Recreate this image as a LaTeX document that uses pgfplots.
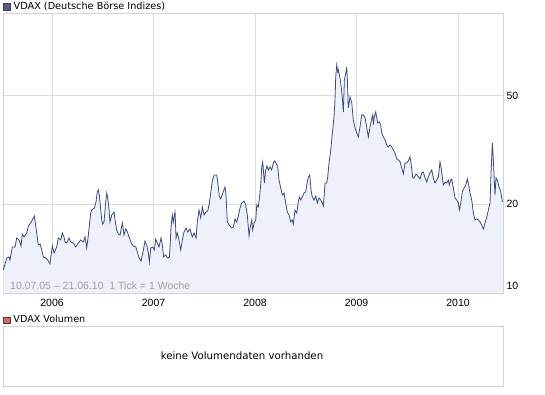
\documentclass[border=0pt]{standalone}
\usepackage{pgfplots}
\pgfplotsset{compat=1.18}
\usepackage{pgfplotstable}
\usepackage{fontspec}
\setmainfont{DejaVu Sans}
\newfontfamily\numfont{Liberation Sans}
\definecolor{vline}{HTML}{3B4C7C}
\definecolor{vfill}{HTML}{EEF1F9}
\definecolor{gridc}{HTML}{DCDCDC}
\definecolor{framec}{HTML}{D2D2D2}
\definecolor{sqblue}{HTML}{4B5E8E}
\definecolor{sqred}{HTML}{D9675F}
\definecolor{capgray}{HTML}{A0A0A0}

\pgfplotstableread{
year vdax
2005.520 11.44
2005.554 12.66
2005.576 12.77
2005.586 12.45
2005.609 13.90
2005.636 13.90
2005.652 15.00
2005.675 14.75
2005.695 14.02
2005.707 15.51
2005.724 15.13
2005.751 15.65
2005.767 16.60
2005.790 17.03
2005.816 17.77
2005.826 18.07
2005.849 15.65
2005.865 14.14
2005.882 14.26
2005.899 13.55
2005.914 12.77
2005.938 12.66
2005.958 12.45
2005.980 12.04
2006.003 14.02
2006.020 13.21
2006.046 13.90
2006.062 15.00
2006.086 14.75
2006.101 15.65
2006.118 15.13
2006.128 14.50
2006.145 14.38
2006.167 15.00
2006.184 14.50
2006.210 14.38
2006.233 13.90
2006.259 14.38
2006.283 14.75
2006.308 14.50
2006.325 15.13
2006.342 13.78
2006.358 15.38
2006.381 18.53
2006.391 19.01
2006.417 19.33
2006.433 20.34
2006.446 22.14
2006.456 22.52
2006.466 21.58
2006.480 19.01
2006.490 17.47
2006.499 16.88
2006.512 17.17
2006.529 20.34
2006.539 21.95
2006.549 21.04
2006.562 19.01
2006.571 17.17
2006.588 18.22
2006.611 18.69
2006.621 17.47
2006.637 16.05
2006.653 15.51
2006.670 15.38
2006.693 17.03
2006.709 15.38
2006.726 16.19
2006.742 15.78
2006.759 15.13
2006.785 14.26
2006.801 14.02
2006.825 13.90
2006.844 13.21
2006.857 12.66
2006.877 12.34
2006.900 13.55
2006.916 14.62
2006.933 14.14
2006.949 13.21
2006.959 12.24
2006.972 13.78
2006.992 13.90
2007.008 13.55
2007.022 14.87
2007.037 14.38
2007.054 13.90
2007.074 15.00
2007.087 14.14
2007.100 12.77
2007.120 12.99
2007.140 12.66
2007.156 12.77
2007.163 13.90
2007.172 16.46
2007.185 18.22
2007.195 17.17
2007.205 18.22
2007.212 18.69
2007.222 15.00
2007.235 15.65
2007.251 14.75
2007.268 13.55
2007.284 14.75
2007.300 15.78
2007.320 16.32
2007.337 15.78
2007.360 16.19
2007.382 15.13
2007.399 15.65
2007.419 15.00
2007.432 17.32
2007.448 19.01
2007.465 17.77
2007.481 19.50
2007.498 18.22
2007.517 18.69
2007.534 18.85
2007.550 20.17
2007.564 21.95
2007.579 24.30
2007.599 25.57
2007.623 25.57
2007.632 24.10
2007.648 21.40
2007.662 20.86
2007.682 21.95
2007.704 23.10
2007.714 21.58
2007.727 17.17
2007.747 16.74
2007.770 16.32
2007.786 16.46
2007.803 17.62
2007.820 17.17
2007.835 18.07
2007.852 19.33
2007.869 20.17
2007.892 20.51
2007.908 19.83
2007.924 18.22
2007.941 15.26
2007.951 16.32
2007.968 17.47
2007.977 16.05
2007.990 17.03
2008.007 17.47
2008.017 19.83
2008.032 19.50
2008.049 21.95
2008.059 24.51
2008.066 27.37
2008.076 28.56
2008.092 23.89
2008.105 26.68
2008.118 27.60
2008.131 26.68
2008.148 27.37
2008.164 26.68
2008.180 28.31
2008.190 28.80
2008.207 28.31
2008.224 27.37
2008.236 24.51
2008.253 22.90
2008.269 21.58
2008.286 21.95
2008.302 20.17
2008.318 18.69
2008.335 18.22
2008.352 17.17
2008.367 17.47
2008.377 16.88
2008.394 19.01
2008.411 18.53
2008.421 19.83
2008.436 21.22
2008.450 20.69
2008.466 21.22
2008.483 21.95
2008.499 22.14
2008.509 23.49
2008.525 25.14
2008.539 25.57
2008.552 22.52
2008.564 21.22
2008.581 20.69
2008.598 21.40
2008.614 20.17
2008.630 21.04
2008.647 20.69
2008.663 20.17
2008.673 19.66
2008.690 23.89
2008.706 23.89
2008.716 25.14
2008.729 28.31
2008.746 31.59
2008.762 36.51
2008.778 41.81
2008.788 48.30
2008.795 58.60
2008.805 64.87
2008.815 61.11
2008.821 62.18
2008.837 58.10
2008.850 53.40
2008.864 47.09
2008.870 43.58
2008.880 57.13
2008.896 61.11
2008.903 63.77
2008.909 58.10
2008.919 45.13
2008.936 49.54
2008.953 47.09
2008.968 40.76
2008.985 38.09
2009.002 36.51
2009.018 35.29
2009.034 38.42
2009.051 42.53
2009.067 42.53
2009.084 41.46
2009.100 38.42
2009.116 35.29
2009.133 38.42
2009.150 41.46
2009.160 42.53
2009.165 39.07
2009.175 41.81
2009.189 43.58
2009.199 41.46
2009.209 39.74
2009.224 40.08
2009.238 39.07
2009.248 36.51
2009.264 35.29
2009.281 34.41
2009.297 32.98
2009.313 32.42
2009.330 32.98
2009.347 32.42
2009.362 31.59
2009.379 30.80
2009.396 29.29
2009.412 29.05
2009.429 28.56
2009.445 27.14
2009.461 25.79
2009.478 28.31
2009.495 28.31
2009.510 28.80
2009.527 29.79
2009.537 28.31
2009.554 24.93
2009.566 24.93
2009.586 25.79
2009.603 25.36
2009.626 24.72
2009.642 26.01
2009.658 26.23
2009.675 24.93
2009.692 24.10
2009.707 25.14
2009.724 26.01
2009.741 26.68
2009.756 24.93
2009.773 23.89
2009.790 24.51
2009.806 25.14
2009.822 28.56
2009.832 27.37
2009.845 25.14
2009.855 23.49
2009.872 24.10
2009.889 23.89
2009.904 24.51
2009.914 23.49
2009.928 24.51
2009.938 24.72
2009.954 22.90
2009.970 21.04
2009.987 20.69
2010.003 20.17
2010.013 19.01
2010.027 20.17
2010.042 22.14
2010.059 22.90
2010.076 23.49
2010.092 24.72
2010.108 23.10
2010.118 21.95
2010.135 20.69
2010.151 18.53
2010.167 17.47
2010.184 17.62
2010.200 17.47
2010.217 17.17
2010.233 16.74
2010.249 16.19
2010.266 17.03
2010.283 17.92
2010.299 19.01
2010.315 20.17
2010.325 26.01
2010.338 33.52
2010.348 29.05
2010.364 21.58
2010.374 24.93
2010.387 24.51
2010.404 23.10
2010.421 22.14
2010.437 20.34
}\vdaxdata

\begin{document}
\begin{tikzpicture}[font=\fontsize{10}{12}\selectfont]
\path[use as bounding box] (0pt,0pt) rectangle (545pt,395pt);
\begin{axis}[
  scale only axis, width=500pt, height=280pt,
  at={(3pt,102pt)}, anchor=south west,
  ymode=log, log basis y=10,
  xmin=2005.517, xmax=2010.443, ymin=9.415, ymax=100.75,
  xtick={2006,2007,2008,2009,2010},
  xticklabels={2006,2007,2008,2009,2010},
  ytick={10,20,50}, yticklabels={10,20,50},
  minor xtick={}, minor ytick={}, yminorgrids=false,
  yticklabel pos=right,
  major tick length=0pt,
  tick style={draw=none},
  grid=major,
  major grid style={draw=gridc, line width=0.8pt},
  axis line style={draw=framec, line width=0.8pt},
  ticklabel style={font=\numfont\fontsize{10.5}{12}\selectfont},
  xticklabel style={yshift=-2.5pt},
  clip=true,
  legend style={at={(0,1)}, anchor=south west, draw=none, fill=none,
    inner sep=0pt, outer sep=0pt, legend cell align=left,
    font=\fontsize{9.7}{12}\selectfont,
    nodes={inner sep=1.5pt}, yshift=0pt},
]
\addplot[draw=none, fill=vfill, forget plot] table[x=year, y=vdax] {\vdaxdata} \closedcycle;
\addplot[vline, line width=0.8pt, no markers,
  legend image code/.code={\draw[fill=sqblue, draw=black!75, line width=0.6pt] (0pt,-3.3pt) rectangle (6.6pt,3.3pt); \path (8.5pt,0pt);}]
  table[x=year, y=vdax] {\vdaxdata};
\addlegendentry{VDAX (Deutsche Börse Indizes)}
\node[anchor=west, text=capgray, inner sep=0pt, font=\numfont\fontsize{10.5}{12}\selectfont] at (rel axis cs:0.014,0.025) {10.07.05 – 21.06.10 \ 1 Tick = 1 Woche};
\end{axis}
\begin{axis}[
  scale only axis, width=500pt, height=60pt,
  at={(3pt,9pt)}, anchor=south west,
  xmin=0, xmax=1, ymin=0, ymax=1,
  xtick=\empty, ytick=\empty,
  axis line style={draw=framec, line width=0.8pt},
  legend style={at={(0,1)}, anchor=south west, draw=none, fill=none,
    inner sep=0pt, outer sep=0pt, legend cell align=left,
    font=\fontsize{9.6}{12}\selectfont,
    nodes={inner sep=1.5pt}},
]
\addlegendimage{legend image code/.code={\draw[fill=sqred, draw=black!75, line width=0.6pt] (0pt,-3.3pt) rectangle (6.6pt,3.3pt); \path (8.5pt,0pt);}}
\addlegendentry{VDAX Volumen}
\node[font=\fontsize{10.2}{12}\selectfont] at (rel axis cs:0.478,0.5) {keine Volumendaten vorhanden};
\end{axis}
\end{tikzpicture}
\end{document}
